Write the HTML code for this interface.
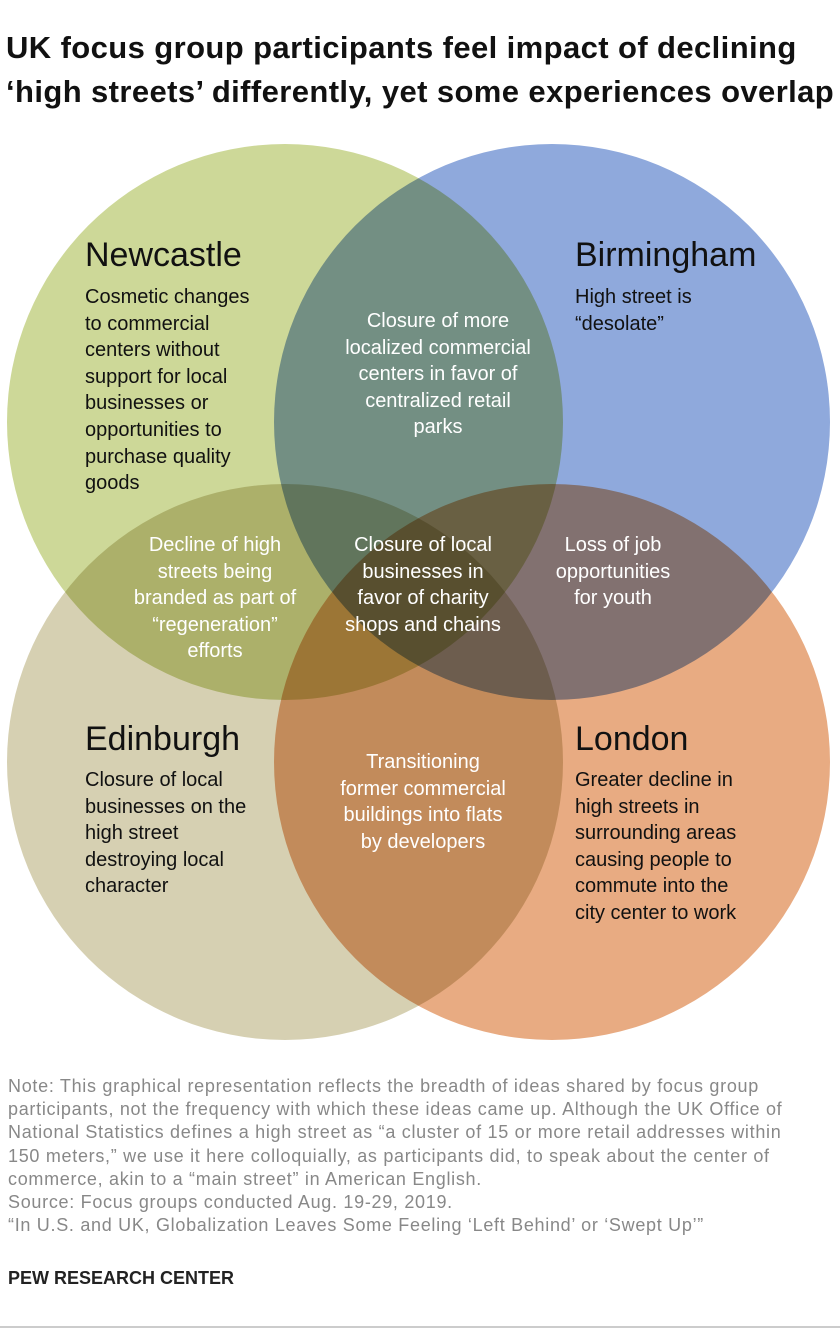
<!DOCTYPE html>
<html><head><meta charset="utf-8"><style>
body{margin:0;width:840px;height:1332px;background:#fff;font-family:"Liberation Sans",sans-serif;position:relative;overflow:hidden}
.t{position:absolute;left:6px;top:26px;font-weight:bold;font-size:31px;line-height:44px;color:#111;letter-spacing:0.4px;white-space:nowrap}
.a{position:absolute;font-size:20px;line-height:26.6px;color:#111;white-space:nowrap}
.h{position:absolute;font-size:34px;color:#111}
.w{position:absolute;font-size:20px;line-height:26.6px;color:#fff;text-align:center;white-space:nowrap}
.n{position:absolute;left:8px;top:1075px;font-size:18px;line-height:23.2px;color:#888;letter-spacing:0.7px;white-space:nowrap}
.p{position:absolute;left:8px;top:1268px;font-weight:bold;font-size:18px;color:#222}
</style></head><body>
<div class="t">UK focus group participants feel impact of declining<br>‘high streets’ differently, yet some experiences overlap</div>
<svg width="840" height="1332" style="position:absolute;left:0;top:0">
<g style="isolation:isolate">
<circle cx="285" cy="422" r="278" fill="#cdd898" style="mix-blend-mode:multiply"/>
<circle cx="552" cy="422" r="278" fill="#8fa9dc" style="mix-blend-mode:multiply"/>
<circle cx="285" cy="762" r="278" fill="#d6d0b2" style="mix-blend-mode:multiply"/>
<circle cx="552" cy="762" r="278" fill="#e8ab82" style="mix-blend-mode:multiply"/>
</g>
<line x1="0" y1="1327" x2="840" y2="1327" stroke="#999" stroke-width="1"/>
</svg>
<div class="h" style="left:85px;top:236px">Newcastle</div>
<div class="a" style="left:85px;top:284px">Cosmetic changes<br>to commercial<br>centers without<br>support for local<br>businesses or<br>opportunities to<br>purchase quality<br>goods</div>
<div class="h" style="left:575px;top:236px">Birmingham</div>
<div class="a" style="left:575px;top:284px">High street is<br>“desolate”</div>
<div class="h" style="left:85px;top:720px">Edinburgh</div>
<div class="a" style="left:85px;top:767px">Closure of local<br>businesses on the<br>high street<br>destroying local<br>character</div>
<div class="h" style="left:575px;top:720px">London</div>
<div class="a" style="left:575px;top:767px">Greater decline in<br>high streets in<br>surrounding areas<br>causing people to<br>commute into the<br>city center to work</div>
<div class="w" style="left:318px;width:240px;top:308px">Closure of more<br>localized commercial<br>centers in favor of<br>centralized retail<br>parks</div>
<div class="w" style="left:115px;width:200px;top:532px">Decline of high<br>streets being<br>branded as part of<br>“regeneration”<br>efforts</div>
<div class="w" style="left:323px;width:200px;top:532px">Closure of local<br>businesses in<br>favor of charity<br>shops and chains</div>
<div class="w" style="left:528px;width:170px;top:532px">Loss of job<br>opportunities<br>for youth</div>
<div class="w" style="left:318px;width:210px;top:749px">Transitioning<br>former commercial<br>buildings into flats<br>by developers</div>
<div class="n">Note: This graphical representation reflects the breadth of ideas shared by focus group<br>participants, not the frequency with which these ideas came up. Although the UK Office of<br>National Statistics defines a high street as “a cluster of 15 or more retail addresses within<br>150 meters,” we use it here colloquially, as participants did, to speak about the center of<br>commerce, akin to a “main street” in American English.<br>Source: Focus groups conducted Aug. 19-29, 2019.<br>“In U.S. and UK, Globalization Leaves Some Feeling ‘Left Behind’ or ‘Swept Up’”</div>
<div class="p">PEW RESEARCH CENTER</div>
</body></html>
